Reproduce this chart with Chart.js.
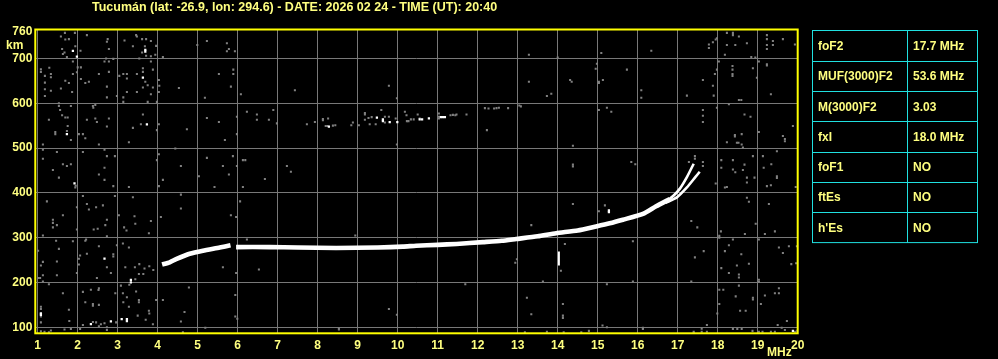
<!DOCTYPE html>
<html>
<head>
<meta charset="utf-8">
<script src="https://cdn.jsdelivr.net/npm/chart.js@4.4.1/dist/chart.umd.min.js"></script>
<style>
  html, body { margin: 0; padding: 0; background: #000; }
  #wrap { position: relative; width: 998px; height: 359px; }
</style>
</head>
<body>
<div id="wrap"><canvas id="ionogram" width="998" height="359"></canvas></div>
<script>
// station header + ionospheric parameters
const titleText = 'Tucumán (lat: -26.9, lon: 294.6) - DATE: 2026 02 24 - TIME (UT): 20:40';
const paramNames = ['foF2', 'MUF(3000)F2', 'M(3000)F2', 'fxI', 'foF1', 'ftEs', "h'Es"];
const paramValues = ['17.7 MHz', '53.6 MHz', '3.03', '18.0 MHz', 'NO', 'NO', 'NO'];

// axes
const freqTicks = [1, 2, 3, 4, 5, 6, 7, 8, 9, 10, 11, 12, 13, 14, 15, 16, 17, 18, 19, 20];
const heightTicks = [100, 200, 300, 400, 500, 600, 700, 760];

// F2 ordinary trace (null = gap in the echo)
const oTraceFreq   = [4.11, 4.3, 4.46, 4.8, 5.13, 5.55, 5.82, 5.9, 5.96, 6.8, 7.5, 8.46, 9.5, 10.13, 10.46, 11.0, 11.47, 12.13, 12.6, 12.96, 13.5, 13.96, 14.5, 14.96, 15.3, 15.63, 16.13, 16.46, 16.8];
const oTraceHeight = [240, 245, 252, 264, 271, 278, 283, null, 279, 279, 278, 277, 278, 280, 282, 284, 286, 290, 293, 297, 303, 310, 316, 325, 332, 340, 353, 370, 386];
const oTailFreq    = [16.75, 16.9, 17.06, 17.23, 17.4];
const oTailHeight  = [383, 394, 410, 435, 465];
// extraordinary trace
const xTailFreq    = [16.7, 16.98, 17.23, 17.44, 17.55];
const xTailHeight  = [378, 390, 412, 435, 447];
// short vertical echo near 14 MHz
const spikeFreq    = [14.03, 14.03];
const spikeHeight  = [238, 269];

const whiteEchoes = [[1.88,717],[1.98,704],[3.69,715],[3.69,719],[3.63,657],[1.73,531],[3.73,553],[2.67,253],[3.33,206],[3.33,200],
  [2.33,107],[2.83,113],[3.1,118],[3.23,118],[3.23,114],[1.08,128],[1.08,131],[8.28,548],[9.48,568],[9.63,564],[9.63,560],[9.8,558],
  [9.99,558],[10.55,564],[10.61,564],[10.78,566],[11.08,569],[11.13,569],[11.18,569],[15.28,357],[15.28,361],[19.88,92],[1.92,421]];

const greyEchoes = [
  [1.58,749],[1.68,757],[1.93,757],[1.69,742],[1.78,743],[2.23,752],[2.75,743],[2.73,737],[3.17,740],[3.46,752],[3.48,749],[3.61,743],
  [3.71,743],[3.83,739],[3.38,727],[3.68,727],[3.96,728],[1.61,721],[1.63,710],[1.67,713],[1.94,727],[2.07,717],[1.73,703],[1.88,693],
  [2.78,721],[2.71,700],[2.67,693],[2.78,693],[2.89,699],[3.54,700],[3.61,713],[3.71,706],[3.83,705],[3.83,693],[3.94,708],[4.13,703],
  [4.99,730],[5.23,739],[5.73,734],[5.78,721],[5.73,716],[5.93,716],
  [1.08,676],[1.08,670],[1.29,679],[1.33,665],[1.33,658],[1.18,661],[1.18,646],[1.18,631],[1.18,616],[1.33,628],[1.58,633],[1.69,650],
  [1.78,645],[1.88,665],[1.86,625],[2.0,680],[2.08,680],[2.08,654],[2.19,645],[2.28,648],[1.98,669],[2.53,665],[2.78,670],[2.73,637],
  [2.73,613],[2.98,616],[3.04,661],[3.14,665],[3.23,665],[3.23,655],[3.14,613],[3.23,625],[3.48,665],[3.48,625],[3.63,678],[3.63,670],
  [3.63,635],[3.69,648],[3.75,640],[3.88,675],[3.88,635],[3.83,620],[3.75,603],[4.03,652],[4.04,639],[4.03,625],[3.98,603],[3.14,603],
  [4.53,634],[5.18,612],[5.53,665],[5.89,675],[5.89,665],[5.83,637],[6.08,620],[7.43,629],
  [1.53,600],[1.53,594],[1.56,585],[1.61,573],[1.69,568],[1.75,568],[1.83,594],[2.38,594],[2.39,590],[2.44,596],[1.28,563],[1.75,549],
  [1.73,538],[1.44,536],[1.44,531],[2.03,531],[2.13,531],[2.19,522],[1.83,518],[2.23,563],[2.44,566],[2.48,558],[2.73,548],[2.78,566],
  [2.53,508],[1.13,508],[3.28,513],[3.38,545],[3.63,575],[3.58,553],[4.03,553],[3.98,540],[4.73,542],[5.23,567],[5.53,558],[5.98,570],
  [5.98,531],[6.23,581],[6.48,575],[6.48,563],[6.78,563],[6.89,585],[6.98,555],[5.68,518],
  [1.13,496],[1.13,476],[1.48,491],[1.63,464],[1.73,460],[1.83,464],[1.38,451],[1.53,434],[2.13,491],[2.53,441],[2.67,496],[2.67,456],
  [2.73,482],[2.93,482],[2.67,429],[4.03,486],[3.98,473],[4.13,429],[4.44,499],[4.58,460],[5.03,437],[5.23,478],[5.63,460],[5.78,441],
  [5.88,482],[5.98,460],[6.13,473],[6.19,473],[6.68,431],[7.23,460],[7.33,447],
  [13.28,708],[9.78,639],[9.98,611],[13.28,648],[13.73,616],[13.84,621],[7.73,553],[7.93,558],[8.13,565],[8.13,562],[8.26,566],[8.2,549],
  [8.24,549],[8.38,550],[8.44,551],[8.88,557],[8.84,551],[9.03,551],[9.18,578],[9.18,575],[9.18,563],[9.27,567],[9.35,569],[9.3,553],
  [9.45,553],[9.59,585],[9.68,570],[9.78,570],[9.68,557],[9.95,566],[10.18,581],[10.22,573],[10.23,560],[10.27,560],[10.33,564],[10.4,564],
  [10.5,575],[10.55,566],[11.03,577],[11.03,570],[11.03,566],[11.32,573],[11.38,574],[11.44,573],[11.47,575],[11.72,575],[12.18,589],
  [12.27,588],[12.41,588],[12.47,589],[12.53,590],[12.76,589],[13.04,595],[13.08,593],[12.23,540],[9.98,508],
  [14.0,702],[15.09,712],[16.34,717],[14.31,652],[14.35,648],[14.95,677],[14.98,688],[15.03,648],[15.03,645],[15.13,652],[15.73,675],
  [16.09,629],[16.09,612],[17.23,617],[17.63,652],[17.88,639],[17.9,617],[17.93,665],[17.98,675],[15.03,585],[15.23,590],[15.34,581],
  [17.63,585],[17.63,572],[17.63,558],[17.98,590],[18.28,598],[18.23,757],[18.38,757],[18.38,752],[18.53,749],[18.73,734],[18.23,730],
  [18.44,730],[17.78,731],[17.78,723],[17.88,736],[17.95,742],[17.98,745],[18.18,708],[18.84,703],[18.94,702],[19.03,693],[19.23,752],
  [19.23,743],[19.23,730],[19.23,721],[19.38,739],[19.38,730],[19.63,743],[19.93,731],[18.03,693],[18.37,683],[18.37,675],[18.37,665],
  [18.37,661],[18.88,678],[19.23,687],[19.23,684],[18.98,657],[19.33,620],[18.53,607],[18.59,607],[18.67,575],[18.82,570],[19.03,536],
  [18.43,529],[18.43,526],[18.6,531],[18.48,512],[18.52,512],[18.23,513],[18.6,508],[18.63,501],[19.63,527],[19.68,520],[19.68,515],
  [19.88,549],[14.38,505],[14.38,463],[14.38,459],[15.84,469],[15.94,464],[17.43,482],[17.43,476],[17.28,469],[17.63,469],[17.63,460],
  [17.95,421],[18.09,473],[18.09,456],[18.38,473],[18.38,452],[18.44,446],[18.67,463],[18.63,451],[18.73,434],[18.73,423],[18.88,482],
  [18.92,434],[19.13,482],[19.15,456],[19.34,464],[19.48,493],[19.48,437],[19.48,433],
  [1.94,412],[1.95,416],[3.28,413],[2.89,415],[4.03,415],[5.42,413],[6.13,413],[1.23,381],[2.13,393],[2.93,393],[3.38,390],[1.98,368],
  [2.23,375],[2.28,363],[2.46,368],[2.63,372],[1.63,350],[1.38,340],[1.38,333],[1.38,323],[1.48,328],[1.13,305],[1.98,318],[2.4,318],
  [2.5,320],[2.73,340],[2.69,328],[2.73,303],[3.03,350],[3.16,323],[3.22,316],[3.42,348],[3.44,331],[3.83,337],[3.78,310],[4.08,346],
  [4.58,396],[4.58,365],[5.83,350],[5.96,346],[6.06,381],[6.23,296],[8.94,305],[1.46,293],[1.53,275],[1.88,292],[2.19,293],[2.21,296],
  [2.53,281],[2.98,283],[3.13,287],[3.28,278],[2.23,264],[2.06,260],[2.03,253],[2.03,240],[1.48,247],[1.08,238],[1.13,246],[1.01,271],
  [2.89,263],[2.89,258],[2.83,221],[3.19,234],[3.43,234],[3.54,241],[3.67,231],[3.79,236],[3.89,228],[3.53,219],[3.64,219],[3.44,207],
  [3.29,195],[1.02,210],[1.06,210],[1.13,216],[1.13,202],[1.28,196],[1.48,216],[1.98,221],[2.48,210],[2.73,234],[3.08,193],[2.53,187],
  [2.52,183],[2.33,184],[2.13,179],[1.63,176],[2.38,152],[2.38,148],[2.53,150],[2.19,156],[3.13,176],[3.14,156],[3.23,167],[3.46,180],
  [3.53,161],[3.53,156],[3.96,161],[4.13,161],[2.94,176],[3.28,146],[3.78,137],[1.08,146],[1.08,141],[1.08,124],[1.08,111],[1.78,139],
  [1.79,114],[2.38,112],[2.46,111],[2.58,107],[2.67,109],[2.96,111],[2.73,100],[2.73,94],[2.53,102],[2.13,105],[2.06,96],[1.83,96],
  [1.67,95],[1.33,93],[1.28,89],[1.08,91],[1.17,90],[3.5,126],[3.7,117],[3.88,107],[3.79,131],[4.58,113],[4.67,134],[4.63,89],
  [5.94,124],[5.99,119],[5.94,172],[5.63,234],[6.53,229],[5.96,221],[5.19,99],[4.78,189],[9.78,141],[9.98,128],[8.53,98],[8.53,95],
  [14.38,375],[15.03,359],[15.18,372],[13.34,328],[12.98,252],[12.94,244],[14.18,286],[14.08,226],[13.63,202],[11.69,196],[15.23,196],
  [15.88,292],[15.88,202],[13.23,166],[13.34,129],[14.13,152],[14.13,126],[14.13,121],[15.12,104],[15.23,100],[13.18,89],[13.73,90],
  [14.15,89],[14.59,89],[14.78,92],[16.13,99],[16.13,96],[17.4,90],[17.4,88],[17.6,97],[17.6,90],[17.73,105],[17.73,90],[17.34,202],
  [17.43,256],[17.65,270],[17.34,337],[17.49,323],[18.08,314],[18.04,304],[18.04,300],[18.38,296],[18.18,270],[18.28,283],[18.09,232],
  [18.28,221],[18.53,218],[18.53,211],[18.48,238],[18.78,242],[18.59,263],[18.04,184],[18.14,184],[18.53,193],[19.03,206],[19.03,201],
  [19.03,296],[18.95,331],[18.68,308],[19.18,308],[19.43,314],[19.53,278],[19.63,266],[19.78,281],[19.98,281],[19.84,241],[19.96,243],
  [18.73,389],[18.78,380],[19.28,375],[19.23,415],[19.33,417],[18.18,412],[18.23,413],[19.95,413],[18.45,169],[18.56,137],[18.7,137],
  [18.04,152],[17.99,131],[18.88,166],[18.88,162],[19.08,152],[19.18,171],[19.43,176],[19.53,176],[19.53,187],[19.5,105],[19.73,114],
  [18.38,96],[18.49,96],[18.6,96],[19.03,90],[19.12,90],[19.33,90],[19.43,90],[19.6,99],[19.68,94],[19.93,90],[19.99,92],[18.87,92]
];

const YELLOW = '#ffff00';
const TEXT = '#ffff80';
const GRID = '#787878';
const CYAN = '#20e0e0';
const FONT = '"Liberation Sans", Arial, sans-serif';

const toPoints = (fs, hs) => fs.map((f, i) => ({ x: f, y: hs[i] }));
const pairs = arr => arr.map(p => ({ x: p[0], y: p[1] }));

// frame, header, units and parameter table
const decorPlugin = {
    id: 'decor',
    afterDraw(chart) {
        const { ctx, chartArea: a } = chart;
        ctx.save();
        ctx.strokeStyle = YELLOW;
        ctx.lineWidth = 2;
        ctx.strokeRect(a.left, a.top, a.right - a.left, a.bottom - a.top);

        ctx.fillStyle = TEXT;
        ctx.textBaseline = 'alphabetic';
        ctx.textAlign = 'left';
        ctx.font = 'bold 12.5px ' + FONT;
        ctx.fillText(titleText, 92, 11);
        ctx.font = 'bold 12px ' + FONT;
        ctx.fillText('km', 6, 49);
        ctx.fillText('MHz', 767, 356);

        // table
        const tx = 812, ty = 30.5, tw = 165, rowH = 30.3, colX = 907;
        ctx.strokeStyle = CYAN;
        ctx.lineWidth = 1;
        ctx.strokeRect(tx + 0.5, ty, tw, rowH * paramNames.length);
        ctx.beginPath();
        ctx.moveTo(colX + 0.5, ty);
        ctx.lineTo(colX + 0.5, ty + rowH * paramNames.length);
        for (let i = 1; i < paramNames.length; i++) {
            const y = Math.round(ty + rowH * i) + 0.5;
            ctx.moveTo(tx, y);
            ctx.lineTo(tx + tw, y);
        }
        ctx.stroke();
        ctx.textBaseline = 'middle';
        paramNames.forEach((name, i) => {
            const cy = ty + rowH * i + rowH / 2 + 1;
            ctx.fillText(name, tx + 6, cy);
            ctx.fillText(paramValues[i], colX + 6, cy);
        });
        ctx.restore();
    }
};

const canvas = document.getElementById('ionogram');
new Chart(canvas.getContext('2d'), {
    type: 'scatter',
    data: {
        datasets: [
            { data: toPoints(oTraceFreq, oTraceHeight), showLine: true, spanGaps: false, borderColor: '#fff', borderWidth: 4.6, pointRadius: 0, tension: 0.2 },
            { data: toPoints(oTailFreq, oTailHeight), showLine: true, borderColor: '#fff', borderWidth: 2.6, pointRadius: 0, tension: 0.2 },
            { data: toPoints(xTailFreq, xTailHeight), showLine: true, borderColor: '#fff', borderWidth: 2.6, pointRadius: 0, tension: 0.2 },
            { data: toPoints(spikeFreq, spikeHeight), showLine: true, borderColor: '#fff', borderWidth: 2, pointRadius: 0 },
            { data: pairs(whiteEchoes), backgroundColor: '#fff', borderWidth: 0, pointStyle: 'rect', pointRadius: 1.6 },
            { data: pairs(greyEchoes), backgroundColor: '#808080', borderWidth: 0, pointStyle: 'rect', pointRadius: 1.45 }
        ]
    },
    options: {
        responsive: false,
        animation: false,
        devicePixelRatio: 1,
        events: [],
        layout: { padding: { left: 0, top: 29.5, right: 200.3, bottom: 0 } },
        plugins: {
            legend: { display: false },
            tooltip: { enabled: false },
            title: { display: false }
        },
        scales: {
            x: {
                type: 'linear',
                min: 0.94,
                max: 20,
                afterBuildTicks: s => { s.ticks = freqTicks.map(v => ({ value: v })); },
                afterFit: s => { s.height = 25.7; },
                border: { display: false },
                grid: { color: GRID, lineWidth: 1, drawTicks: false },
                ticks: { color: TEXT, font: { family: FONT, size: 12, weight: 'bold' }, padding: 5, autoSkip: false, maxRotation: 0, callback: v => String(v) }
            },
            y: {
                type: 'linear',
                min: 86.6,
                max: 764.5,
                afterBuildTicks: s => { s.ticks = heightTicks.map(v => ({ value: v })); },
                afterFit: s => { s.width = 35.3; },
                border: { display: false },
                grid: { color: c => (c.tick && c.tick.value === 760) ? 'rgba(0,0,0,0)' : GRID, lineWidth: 1, drawTicks: false },
                ticks: { color: TEXT, font: { family: FONT, size: 12, weight: 'bold' }, padding: 3, autoSkip: false, callback: v => String(v) }
            }
        }
    },
    plugins: [decorPlugin]
});
</script>
</body>
</html>
